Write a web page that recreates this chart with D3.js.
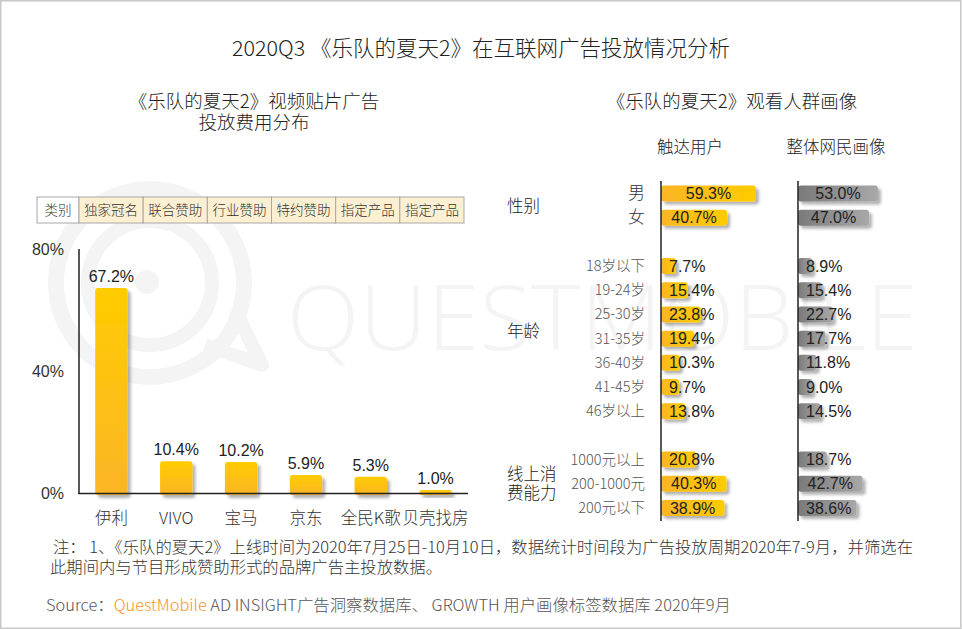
<!DOCTYPE html>
<html>
<head>
<meta charset="utf-8">
<script src="https://d3js.org/d3.v7.min.js"></script>
<style>
body { margin: 0; background: #fff; }
text { font-family: "Noto Sans CJK SC", "Noto Sans", sans-serif; font-weight: 300; }
.num { font-family: "Liberation Sans", Arial, sans-serif; font-weight: 400; }
</style>
</head>
<body>
<svg width="962" height="630"></svg>
<script>
// 左图：视频贴片广告投放费用分布
var brands = ["伊利", "VIVO", "宝马", "京东", "全民K歌", "贝壳找房"];
var spendShare = [67.2, 10.4, 10.2, 5.9, 5.3, 1.0];
var yTicks = [0, 40, 80];
var sponsorTypes = ["类别", "独家冠名", "联合赞助", "行业赞助", "特约赞助", "指定产品", "指定产品"];

// 右图：观看人群画像 (gap = 空行)
var rowKeys = ["男", "女", "gap1", "18岁以下", "19-24岁", "25-30岁", "31-35岁", "36-40岁", "41-45岁", "46岁以上",
               "gap2", "1000元以上", "200-1000元", "200元以下"];
var reachUsers = [59.3, 40.7, null, 7.7, 15.4, 23.8, 19.4, 10.3, 9.7, 13.8, null, 20.8, 40.3, 38.9];
var allNetizens = [53.0, 47.0, null, 8.9, 15.4, 22.7, 17.7, 11.8, 9.0, 14.5, null, 18.7, 42.7, 38.6];
var groupNames = [["性别"], ["年龄"], ["线上消", "费能力"]];
var groupRows = [["男", "女"],
                 ["18岁以下", "19-24岁", "25-30岁", "31-35岁", "36-40岁", "41-45岁", "46岁以上"],
                 ["1000元以上", "200-1000元", "200元以下"]];
var columnNames = ["触达用户", "整体网民画像"];

var svg = d3.select("svg");

// 渐变和阴影
var defs = svg.append("defs");
var gv = defs.append("linearGradient").attr("id", "yellowV").attr("x1", 0).attr("y1", 0).attr("x2", 0).attr("y2", 1);
gv.append("stop").attr("offset", "0%").attr("stop-color", "#ffcc00");
gv.append("stop").attr("offset", "100%").attr("stop-color", "#fbb526");
var gy = defs.append("linearGradient").attr("id", "yellowH");
gy.append("stop").attr("offset", "0%").attr("stop-color", "#fbb526");
gy.append("stop").attr("offset", "100%").attr("stop-color", "#ffcc00");
var gg = defs.append("linearGradient").attr("id", "grayH");
gg.append("stop").attr("offset", "0%").attr("stop-color", "#7a7a7a");
gg.append("stop").attr("offset", "100%").attr("stop-color", "#a8a8a8");
defs.append("filter").attr("id", "shadow").attr("x", "-20%").attr("y", "-20%").attr("width", "150%").attr("height", "160%")
    .append("feDropShadow").attr("dx", 3).attr("dy", 3).attr("stdDeviation", 1.8)
    .attr("flood-color", "#000").attr("flood-opacity", 0.3);

// 水印
var wm = svg.append("g").attr("fill", "none").attr("stroke", "#f4f4f4");
wm.append("circle").attr("cx", 150).attr("cy", 283).attr("r", 94).attr("stroke-width", 16);
wm.append("circle").attr("cx", 150).attr("cy", 283).attr("r", 62).attr("stroke-width", 14);
wm.append("path").attr("d", "M205,345 L262,365 L235,310").attr("stroke-width", 14).attr("stroke-linejoin", "round");
svg.append("circle").attr("cx", 147).attr("cy", 282).attr("r", 12).attr("fill", "#f4f4f4");
svg.append("text").attr("x", 287).attr("y", 350).attr("textLength", 631).attr("lengthAdjust", "spacingAndGlyphs")
    .attr("font-size", 90).attr("fill", "#f4f4f4")
    .style("font-family", "'Open Sans', sans-serif").text("QUESTMOBILE");

// 外框
svg.append("rect").attr("x", 0.75).attr("y", 0.75).attr("width", 960).attr("height", 627.5)
    .attr("fill", "none").attr("stroke", "#c8c8c8").attr("stroke-width", 1.5);

// 标题
svg.append("text").attr("x", 481).attr("y", 56).attr("text-anchor", "middle")
    .attr("font-size", 21.5).attr("fill", "#222").text("2020Q3 《乐队的夏天2》在互联网广告投放情况分析");
svg.append("text").attr("x", 254).attr("y", 108).attr("text-anchor", "middle")
    .attr("font-size", 18.5).attr("fill", "#222").text("《乐队的夏天2》视频贴片广告");
svg.append("text").attr("x", 254).attr("y", 129).attr("text-anchor", "middle")
    .attr("font-size", 18.5).attr("fill", "#222").text("投放费用分布");
svg.append("text").attr("x", 732).attr("y", 108).attr("text-anchor", "middle")
    .attr("font-size", 18.5).attr("fill", "#222").text("《乐队的夏天2》观看人群画像");

// 类别表格
var cellX = d3.scaleBand().domain(d3.range(1, sponsorTypes.length)).range([79, 464]);
var table = svg.append("g");
sponsorTypes.forEach(function(s, i) {
    var x0 = i === 0 ? 37 : cellX(i), w = i === 0 ? 42 : cellX.bandwidth();
    table.append("rect").attr("x", x0).attr("y", 197).attr("width", w).attr("height", 26)
        .attr("fill", i === 0 ? "#fff" : "#fdf0d2").attr("stroke", "#a8a8a8").attr("stroke-width", 1);
    table.append("text").attr("x", x0 + w / 2).attr("y", 215).attr("text-anchor", "middle")
        .attr("font-size", 13.5).attr("fill", "#333").text(s);
});

// 左图柱状图
var x = d3.scaleBand().domain(brands).range([79, 468]).paddingInner(0.5).paddingOuter(0.25);
var y = d3.scaleLinear().domain([0, 80]).range([493, 249]);

var left = svg.append("g");
left.selectAll(".tick-label").data(yTicks).enter().append("text")
    .attr("class", "num").attr("x", 64).attr("y", function(d) { return y(d) + 6; })
    .attr("text-anchor", "end").attr("font-size", 16).attr("fill", "#333")
    .text(function(d) { return d + "%"; });

left.selectAll(".bar").data(brands).enter().append("rect")
    .attr("x", function(d) { return x(d); })
    .attr("y", function(d, i) { return y(spendShare[i]); })
    .attr("width", x.bandwidth())
    .attr("height", function(d, i) { return y(0) - y(spendShare[i]) + 2; })
    .attr("rx", 3)
    .attr("fill", "url(#yellowV)").attr("filter", "url(#shadow)");

left.append("line").attr("x1", 79).attr("x2", 79).attr("y1", 249).attr("y2", 494)
    .attr("stroke", "#222").attr("stroke-width", 1.5);
left.append("line").attr("x1", 78.25).attr("x2", 468).attr("y1", 493.5).attr("y2", 493.5)
    .attr("stroke", "#222").attr("stroke-width", 1.5);
left.selectAll(".value").data(brands).enter().append("text")
    .attr("class", "num").attr("x", function(d) { return x(d) + x.bandwidth() / 2; })
    .attr("y", function(d, i) { return y(spendShare[i]) - 6; })
    .attr("text-anchor", "middle").attr("font-size", 16).attr("fill", "#222")
    .text(function(d, i) { return spendShare[i].toFixed(1) + "%"; });
left.selectAll(".cat").data(brands).enter().append("text")
    .attr("x", function(d) { return x(d) + x.bandwidth() / 2; }).attr("y", 524)
    .attr("text-anchor", "middle").attr("font-size", 16.5).attr("fill", "#333")
    .text(function(d) { return d; });

// 右图条形图
var row = d3.scalePoint().domain(rowKeys).range([193.5, 508]);
var cols = [
    { name: columnNames[0], values: reachUsers, axis: 661, fill: "url(#yellowH)", scale: d3.scaleLinear().domain([0, 100]).range([3, 158]), head: 690 },
    { name: columnNames[1], values: allNetizens, axis: 798, fill: "url(#grayH)", scale: d3.scaleLinear().domain([0, 100]).range([1, 150]), head: 836 }
];
var right = svg.append("g");
var barH = 16;

cols.forEach(function(c) {
    right.append("text").attr("x", c.head).attr("y", 153).attr("text-anchor", "middle")
        .attr("font-size", 16.5).attr("fill", "#222").text(c.name);
    rowKeys.forEach(function(k, i) {
        var v = c.values[i];
        if (v === null) return;
        right.append("rect").attr("x", c.axis).attr("y", row(k) - barH / 2)
            .attr("width", c.scale(v)).attr("height", barH).attr("rx", 3)
            .attr("fill", c.fill).attr("filter", "url(#shadow)");
    });
    right.append("line").attr("x1", c.axis).attr("x2", c.axis).attr("y1", 181).attr("y2", 521)
        .attr("stroke", "#222").attr("stroke-width", 1.5);
    rowKeys.forEach(function(k, i) {
        var v = c.values[i];
        if (v === null) return;
        var t = right.append("text").attr("class", "num").attr("y", row(k) + 5.5)
            .attr("font-size", 16).attr("fill", "#222").text(v.toFixed(1) + "%");
        var w = t.node().getComputedTextLength();
        var cx = c.axis + c.scale(v) / 2;
        t.attr("x", Math.max(c.axis + 8, cx - w / 2));
    });
});

// 行标签
rowKeys.forEach(function(k) {
    if (k.indexOf("gap") === 0) return;
    var big = (k === "男" || k === "女");
    right.append("text").attr("x", 645).attr("y", row(k) + 5)
        .attr("text-anchor", "end").attr("font-size", big ? 17 : 14.5)
        .attr("fill", big ? "#333" : "#555").text(k);
});

// 分组标签
groupNames.forEach(function(lines, gi) {
    var cy = d3.mean(groupRows[gi], function(k) { return row(k); });
    if (gi === 1) cy -= 8;
    lines.forEach(function(l, li) {
        right.append("text").attr("x", 507)
            .attr("y", cy + 6 + (li - (lines.length - 1) / 2) * 19)
            .attr("font-size", 16.5).attr("font-weight", 400).attr("fill", "#222").text(l);
    });
});

// 注释与来源
svg.append("text").attr("x", 53).attr("y", 553).attr("font-size", 15.5).attr("fill", "#333")
    .attr("textLength", 860).attr("lengthAdjust", "spacingAndGlyphs")
    .text("注：  1、《乐队的夏天2》上线时间为2020年7月25日-10月10日，数据统计时间段为广告投放周期2020年7-9月，并筛选在");
svg.append("text").attr("x", 50).attr("y", 573).attr("font-size", 15.5).attr("fill", "#333")
    .attr("textLength", 392).attr("lengthAdjust", "spacingAndGlyphs")
    .text("此期间内与节目形成赞助形式的品牌广告主投放数据。");
var src = svg.append("text").attr("x", 46).attr("y", 611).attr("font-size", 15.5).attr("fill", "#555")
    .attr("textLength", 685).attr("lengthAdjust", "spacingAndGlyphs");
src.append("tspan").text("Source：");
src.append("tspan").attr("fill", "#f7941d").text("QuestMobile");
src.append("tspan").text(" AD INSIGHT广告洞察数据库、 GROWTH 用户画像标签数据库 2020年9月");
</script>
</body>
</html>
